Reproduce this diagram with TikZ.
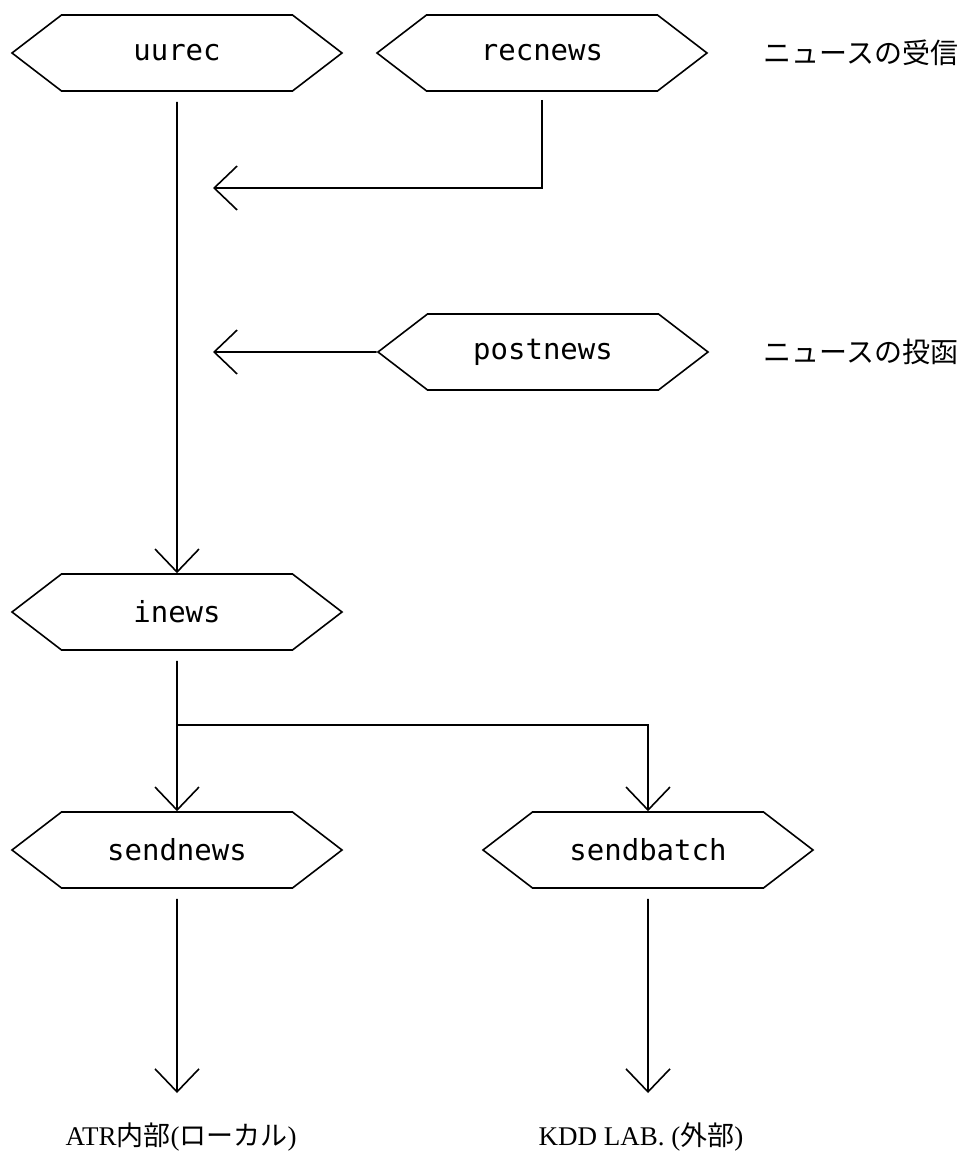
\documentclass[tikz,border=0pt]{standalone}
\usepackage{fontspec}
\setmainfont{Liberation Serif}
\setmonofont{DejaVu Sans Mono}
\newfontfamily\jpfont{Noto Sans CJK JP}
\usetikzlibrary{shapes.symbols,arrows.meta,positioning}

\begin{document}
\begin{tikzpicture}[x=0.5pt,y=-0.5pt,line width=0.8pt,>={Straight Barb[length=11.5pt,width=22pt]},
  prog/.style={draw, signal, signal to=east and west, signal pointer angle=75, minimum width=165pt, minimum height=38pt, inner sep=0pt, font=\ttfamily\fontsize{14.5}{14.5}\selectfont},
  note/.style={font=\jpfont\fontsize{14}{14}\selectfont},
  dest/.style={font=\fontsize{13.5}{13.5}\selectfont}]
\useasboundingbox (0,0) rectangle (963,1155);
% programs
\node[prog] (uurec) at (177,53) {uurec};
\node[prog] (recnews) at (542,53) {recnews};
\node[prog] (postnews) at (543,352) {postnews};
\node[prog] (inews) at (177,612) {inews};
\node[prog] (sendnews) at (177,850) {sendnews};
\node[prog] (sendbatch) at (648,850) {sendbatch};
% notes
\node[note] (recvnote) at (861,53) {ニュースの受信};
\node[note] (postnote) at (861,352) {ニュースの投函};
\node[dest] (atr) at (181,1137) {ATR{\jpfont 内部}({\jpfont ローカル})};
\node[dest] (kdd) at (641,1137) {KDD LAB. ({\jpfont 外部})};
% arrow ends
\coordinate (in1) at (213,188);
\coordinate (in2) at (213,352);
\coordinate (fork) at (177,725);
\coordinate (local) at (177,1093);
\coordinate (remote) at (648,1093);

\draw[->,shorten <=5pt] (uurec) -- (inews);
\draw[->,shorten <=4pt] (recnews) |- (in1);
\draw[->] (postnews) -- (in2);
\draw[->,shorten <=5pt] (inews) -- (sendnews);
\draw[->] (fork) -| (sendbatch);
\draw[->,shorten <=5pt] (sendnews) -- (local);
\draw[->,shorten <=5pt] (sendbatch) -- (remote);
\end{tikzpicture}
\end{document}
